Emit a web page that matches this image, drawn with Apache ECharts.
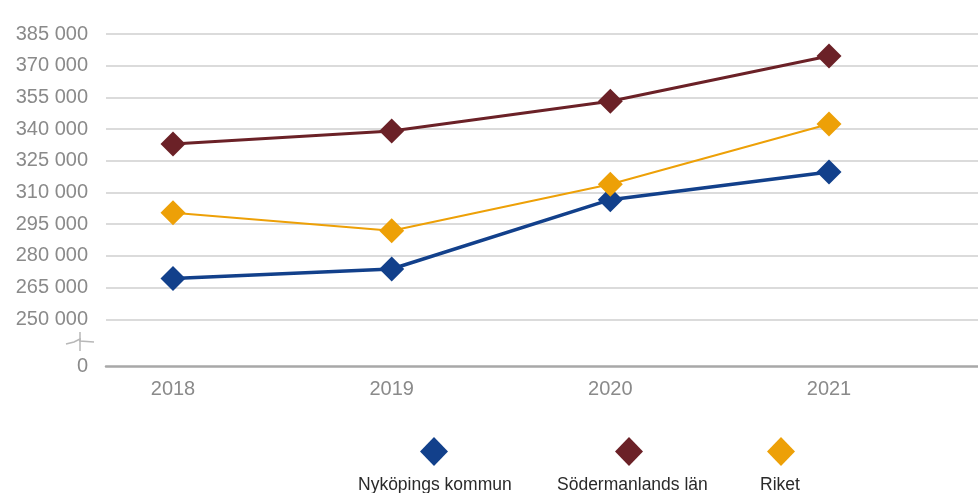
<!DOCTYPE html>
<html>
<head>
<meta charset="utf-8">
<script src="https://cdn.jsdelivr.net/npm/echarts@6/dist/echarts.min.js"></script>
<style>
  html, body { margin: 0; padding: 0; background: #ffffff; }
  #chart { width: 978px; height: 493px; }
</style>
</head>
<body>
<div id="chart"></div>
<script>
// Years on the x axis
const years = ['2018', '2019', '2020', '2021'];

// Series names (legend order)
const seriesNames = ['Nyköpings kommun', 'Södermanlands län', 'Riket'];

// Values per year
const nykoping = [269300, 273800, 306600, 319700];
const sodermanland = [333000, 339100, 353200, 374600];
const riket = [300400, 291900, 313900, 342400];

// Upper value axis (above the break) and the lower stub showing 0
const yMin = 250000;
const yMax = 385000;
const yStep = 15000;
const lowerTicks = [0];

const colors = ['#12408b', '#6b2127', '#eda007'];
const lineWidths = [3.5, 3, 2];
const seriesData = [nykoping, sodermanland, riket];

const fmt = v => String(v).replace(/\B(?=(\d{3})+(?!\d))/g, ' ');
const labelFont = { fontFamily: 'Liberation Sans', fontSize: 20, color: '#8a8a8a' };

const chart = echarts.init(document.getElementById('chart'), null, { renderer: 'canvas' });

const plotTop = 34;
const plotBottom = 173.7;   // distance from bottom edge to the 250 000 line
const zeroBottom = 127;     // distance from bottom edge to the 0 line

// Legend: diamond above, name below
const iconCenters = [434, 629, 781];
const textLefts = [358, 557, 760];
const legends = [];
seriesNames.forEach((name, i) => {
  legends.push({
    data: [name], left: iconCenters[i] - 14, top: 437, padding: 0,
    icon: 'diamond', itemWidth: 28, itemHeight: 29,
    formatter: () => '', selectedMode: false
  });
  legends.push({
    data: [name], left: textLefts[i] - 5, top: 476, padding: 0,
    icon: 'rect', itemWidth: 0, itemHeight: 17,
    itemStyle: { opacity: 0 },
    textStyle: { fontFamily: 'Liberation Sans', fontSize: 17.5, color: '#2a2a2a' },
    selectedMode: false
  });
});

const option = {
  backgroundColor: '#ffffff',
  animation: false,
  color: colors,
  legend: legends,
  grid: [
    // gridlines + value labels, full width
    { left: 106, right: 0, top: plotTop, bottom: plotBottom },
    // data area aligned on the year positions
    { left: 173, right: 149, top: plotTop, bottom: plotBottom },
    // lower stub below the axis break
    { left: 106, right: 0, top: 493 - plotBottom, bottom: zeroBottom }
  ],
  xAxis: [
    { gridIndex: 0, type: 'value', min: 0, max: 1, show: false },
    {
      gridIndex: 1, type: 'category', data: years, boundaryGap: false,
      axisLine: { show: false }, axisTick: { show: false },
      axisLabel: { ...labelFont, margin: 60 }
    },
    {
      gridIndex: 2, type: 'value', min: 0, max: 1,
      axisLine: { show: true, lineStyle: { color: '#a8a8a8', width: 2.5 } },
      axisTick: { show: false }, axisLabel: { show: false }, splitLine: { show: false }
    }
  ],
  yAxis: [
    {
      gridIndex: 0, type: 'value', min: yMin, max: yMax, interval: yStep,
      axisLine: { show: false }, axisTick: { show: false },
      axisLabel: { ...labelFont, margin: 18, formatter: fmt },
      splitLine: { show: true, lineStyle: { color: '#cfcfcf', width: 1.5 } }
    },
    { gridIndex: 1, type: 'value', min: yMin, max: yMax, interval: yStep, show: false },
    {
      gridIndex: 2, type: 'value', min: lowerTicks[0], max: 1, interval: 1,
      axisLine: { show: false }, axisTick: { show: false },
      axisLabel: { ...labelFont, margin: 18, formatter: v => (lowerTicks.includes(v) ? fmt(v) : '') },
      splitLine: { show: false }
    }
  ],
  graphic: [
    // axis-break mark between 0 and 250 000
    {
      type: 'polyline', silent: true,
      shape: { points: [[66, 344], [74, 342], [80, 339], [80, 351]] },
      style: { stroke: '#b8b8b8', lineWidth: 1.5, fill: null }
    },
    {
      type: 'polyline', silent: true,
      shape: { points: [[80, 332], [80, 341], [94, 342]] },
      style: { stroke: '#b8b8b8', lineWidth: 1.5, fill: null }
    }
  ],
  series: seriesNames.map((name, i) => ({
    name,
    type: 'line',
    xAxisIndex: 1,
    yAxisIndex: 1,
    data: seriesData[i],
    symbol: 'diamond',
    symbolSize: 25,
    lineStyle: { color: colors[i], width: lineWidths[i] },
    itemStyle: { color: colors[i] },
    z: 2 + i
  }))
};

chart.setOption(option);
</script>
</body>
</html>
